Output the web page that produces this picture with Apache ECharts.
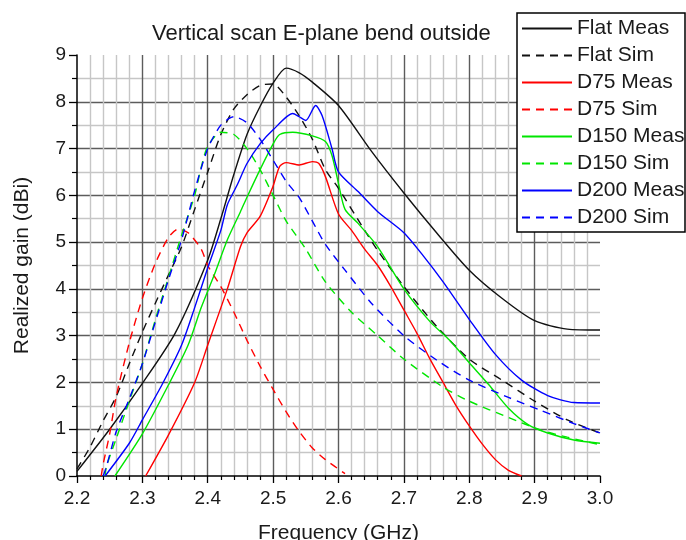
<!DOCTYPE html>
<html>
<head>
<meta charset="utf-8">
<style>
  html, body { margin: 0; padding: 0; background: #fff; }
  #chart { width: 686px; height: 540px; }
</style>
<script src="https://cdn.jsdelivr.net/npm/echarts@6/dist/echarts.min.js"></script>
</head>
<body>
<div id="chart"></div>
<script>
// Realized gain (dBi) versus frequency (GHz), [frequency, gain] pairs
const flatMeas = [
  [2.20, 0.1], [2.25, 1.0], [2.30, 1.98], [2.35, 3.05], [2.40, 4.62], [2.42, 5.5],
  [2.44, 6.45], [2.46, 7.3], [2.48, 7.9], [2.50, 8.4], [2.52, 8.72], [2.54, 8.62],
  [2.56, 8.42], [2.60, 7.92], [2.65, 6.95], [2.70, 6.05], [2.75, 5.2], [2.80, 4.4],
  [2.85, 3.8], [2.90, 3.32], [2.95, 3.14], [3.00, 3.12]
];
const flatSim = [
  [2.20, 0.15], [2.22, 0.62], [2.24, 1.18], [2.26, 1.7], [2.28, 2.4], [2.30, 3.08],
  [2.32, 3.7], [2.34, 4.3], [2.36, 4.9], [2.38, 5.7], [2.40, 6.5], [2.42, 7.3],
  [2.44, 7.85], [2.46, 8.15], [2.48, 8.35], [2.50, 8.38], [2.52, 8.1], [2.54, 7.7],
  [2.56, 7.2], [2.58, 6.55], [2.60, 6.15], [2.64, 5.25], [2.66, 4.82], [2.70, 4.05],
  [2.75, 3.2], [2.80, 2.5], [2.85, 2.05], [2.90, 1.6], [2.95, 1.2], [3.00, 0.92]
];
const d75Meas = [
  [2.305, 0], [2.34, 0.88], [2.38, 2.0], [2.40, 2.8], [2.43, 4.0], [2.45, 4.9],
  [2.46, 5.2], [2.48, 5.55], [2.50, 6.2], [2.51, 6.62], [2.52, 6.7], [2.54, 6.65],
  [2.56, 6.72], [2.57, 6.68], [2.58, 6.4], [2.60, 5.6], [2.62, 5.25], [2.64, 4.85],
  [2.66, 4.5], [2.68, 4.05], [2.70, 3.55], [2.72, 3.05], [2.74, 2.5], [2.76, 2.0],
  [2.78, 1.5], [2.80, 1.07], [2.82, 0.68], [2.84, 0.35], [2.86, 0.12], [2.88, 0]
];
const d75Sim = [
  [2.237, 0], [2.24, 0.25], [2.25, 0.9], [2.26, 1.7], [2.28, 2.85], [2.30, 3.8],
  [2.32, 4.55], [2.34, 5.1], [2.355, 5.28], [2.37, 5.2], [2.39, 4.85], [2.40, 4.5],
  [2.42, 4.05], [2.44, 3.5], [2.46, 2.9], [2.48, 2.35], [2.50, 1.85], [2.52, 1.37],
  [2.54, 0.95], [2.56, 0.6], [2.58, 0.35], [2.61, 0.05]
];
const d150Meas = [
  [2.258, 0], [2.30, 0.9], [2.34, 1.95], [2.37, 2.8], [2.39, 3.6], [2.41, 4.3],
  [2.43, 5.05], [2.45, 5.65], [2.46, 5.96], [2.48, 6.55], [2.50, 7.1], [2.51, 7.3],
  [2.53, 7.35], [2.56, 7.27], [2.58, 7.15], [2.59, 6.85], [2.60, 6.25], [2.61, 5.7],
  [2.63, 5.4], [2.66, 4.9], [2.70, 4.0], [2.74, 3.3], [2.77, 2.9], [2.80, 2.42],
  [2.83, 1.95], [2.86, 1.45], [2.89, 1.1], [2.92, 0.92], [2.96, 0.77], [3.00, 0.7]
];
const d150Sim = [
  [2.243, 0], [2.245, 0.2], [2.26, 0.8], [2.28, 1.6], [2.30, 2.4], [2.32, 3.35],
  [2.34, 4.25], [2.36, 5.15], [2.38, 6.0], [2.39, 6.6], [2.40, 7.05], [2.42, 7.35],
  [2.44, 7.3], [2.46, 7.0], [2.48, 6.55], [2.50, 6.0], [2.52, 5.45], [2.55, 4.85],
  [2.58, 4.15], [2.62, 3.5], [2.66, 3.0], [2.70, 2.5], [2.76, 1.9], [2.80, 1.6],
  [2.86, 1.25], [2.91, 0.98], [2.95, 0.83], [3.00, 0.67]
];
const d200Meas = [
  [2.243, 0], [2.28, 0.7], [2.30, 1.2], [2.33, 1.95], [2.36, 2.8], [2.38, 3.6],
  [2.40, 4.45], [2.42, 5.25], [2.43, 5.8], [2.445, 6.22], [2.46, 6.68], [2.48, 7.1],
  [2.50, 7.4], [2.53, 7.75], [2.54, 7.68], [2.55, 7.6], [2.565, 7.92], [2.575, 7.7],
  [2.59, 7.0], [2.60, 6.5], [2.63, 6.08], [2.66, 5.65], [2.70, 5.2], [2.73, 4.7],
  [2.76, 4.15], [2.80, 3.35], [2.84, 2.6], [2.88, 2.05], [2.92, 1.72], [2.96, 1.57],
  [3.00, 1.56]
];
const d200Sim = [
  [2.24, 0], [2.245, 0.2], [2.26, 0.95], [2.28, 1.65], [2.30, 2.4], [2.32, 3.3],
  [2.34, 4.2], [2.36, 5.05], [2.38, 6.1], [2.40, 7.0], [2.42, 7.5], [2.44, 7.68],
  [2.46, 7.55], [2.48, 7.2], [2.50, 6.75], [2.52, 6.3], [2.54, 5.95], [2.56, 5.45],
  [2.58, 4.95], [2.61, 4.4], [2.65, 3.7], [2.70, 3.0], [2.75, 2.48], [2.80, 2.05],
  [2.86, 1.68], [2.91, 1.4], [2.96, 1.12], [3.00, 0.92]
];

const seriesNames = ['Flat Meas', 'Flat Sim', 'D75 Meas', 'D75 Sim',
                     'D150 Meas', 'D150 Sim', 'D200 Meas', 'D200 Sim'];
const seriesData = [flatMeas, flatSim, d75Meas, d75Sim, d150Meas, d150Sim, d200Meas, d200Sim];
const seriesColors = ['#111111', '#111111', '#ff0000', '#ff0000',
                      '#00e600', '#00e600', '#0000ff', '#0000ff'];

const xTickLabels = ['2.2', '2.3', '2.4', '2.5', '2.6', '2.7', '2.8', '2.9', '3.0'];
const yTickLabels = ['0', '1', '2', '3', '4', '5', '6', '7', '8', '9'];

const FONT = '"Liberation Sans", Arial, sans-serif';
const TXT = '#1a1a1a';

const chart = echarts.init(document.getElementById('chart'), null, { renderer: 'canvas' });

chart.setOption({
  animation: false,
  backgroundColor: '#ffffff',
  title: {
    text: 'Vertical scan E-plane bend outside',
    left: 152,
    top: 23,
    padding: 0,
    textStyle: { fontFamily: FONT, fontSize: 22, fontWeight: 'normal', color: TXT }
  },
  // legend frame, drawn beneath the legend entries
  graphic: [{
    type: 'rect',
    z: 3,
    silent: true,
    shape: { x: 517, y: 13, width: 168, height: 219 },
    style: { fill: '#ffffff', stroke: '#000000', lineWidth: 1.5 }
  }],
  legend: {
    orient: 'vertical',
    left: 517,
    top: 12,
    padding: [6, 0, 5, 4],
    itemWidth: 50,
    itemHeight: 14,
    itemGap: 6,
    z: 5,
    itemStyle: { opacity: 0 },
    textStyle: { fontFamily: FONT, fontSize: 21, lineHeight: 21, color: TXT },
    data: seriesNames
  },
  grid: { left: 77, right: 86, top: 55, bottom: 64, containLabel: false, outerBoundsMode: 'none' },
  xAxis: {
    type: 'value',
    min: 2.2, max: 3.0, interval: 0.1,
    name: 'Frequency (GHz)',
    nameLocation: 'middle',
    nameGap: 47,
    nameTextStyle: { fontFamily: FONT, fontSize: 21, color: TXT },
    axisLine: { show: true, onZero: false, lineStyle: { color: '#000', width: 1.5 } },
    axisTick: { show: true, length: 7, lineStyle: { color: '#000', width: 1.3 } },
    minorTick: { show: true, splitNumber: 5, length: 4, lineStyle: { color: '#000', width: 1.2 } },
    axisLabel: {
      margin: 13, fontFamily: FONT, fontSize: 19, color: TXT,
      formatter: v => xTickLabels[Math.round((v - 2.2) / 0.1)]
    },
    splitLine: { show: true, showMinLine: false, showMaxLine: false, lineStyle: { color: '#5c5c5c', width: 1.4 } },
    minorSplitLine: { show: true, lineStyle: { color: '#c6c6c6', width: 1.4 } }
  },
  yAxis: {
    type: 'value',
    min: 0, max: 9, interval: 1,
    name: 'Realized gain (dBi)',
    nameLocation: 'middle',
    nameGap: 44,
    nameTextStyle: { fontFamily: FONT, fontSize: 21, color: TXT },
    axisLine: { show: true, lineStyle: { color: '#000', width: 1.5 } },
    axisTick: { show: true, length: 8, lineStyle: { color: '#000', width: 1.3 } },
    minorTick: { show: true, splitNumber: 2, length: 5, lineStyle: { color: '#000', width: 1.2 } },
    axisLabel: {
      margin: 11, fontFamily: FONT, fontSize: 19, color: TXT,
      formatter: v => yTickLabels[Math.round(v)]
    },
    splitLine: { show: true, showMinLine: false, showMaxLine: false, lineStyle: { color: '#5c5c5c', width: 1.4 } },
    minorSplitLine: { show: true, lineStyle: { color: '#c6c6c6', width: 1.4 } }
  },
  series: seriesNames.map((name, i) => ({
    name: name,
    type: 'line',
    data: seriesData[i],
    symbol: 'none',
    showSymbol: false,
    smooth: 0.25,
    color: seriesColors[i],
    lineStyle: {
      color: seriesColors[i],
      width: 1.4,
      type: name.endsWith('Sim') ? [8, 6] : 'solid'
    }
  }))
});
</script>
</body>
</html>
